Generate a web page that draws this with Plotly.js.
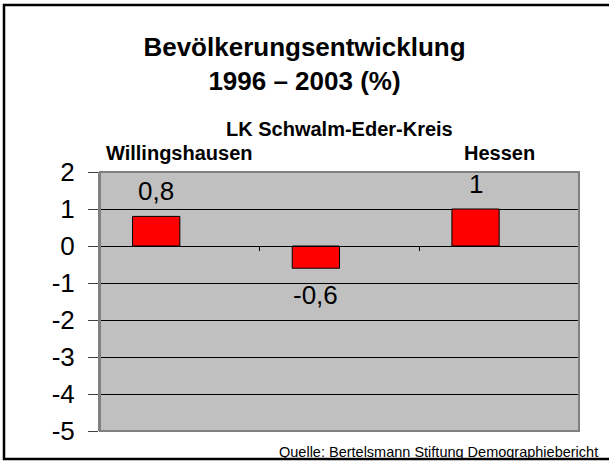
<!DOCTYPE html>
<html>
<head>
<meta charset="utf-8">
<script src="https://cdn.plot.ly/plotly-3.0.1.min.js"></script>
<style>
  html, body { margin: 0; padding: 0; background: #fff; }
  #plot { width: 609px; height: 461px; }
</style>
</head>
<body>
<div id="plot"></div>
<script>
// Daten: Bevölkerungsentwicklung 1996 – 2003 (%)
const categories = ['Willingshausen', 'LK Schwalm-Eder-Kreis', 'Hessen'];
const values = [0.8, -0.6, 1];
const yTicks = [2, 1, 0, -1, -2, -3, -4, -5];
const titleLines = ['Bevölkerungsentwicklung', '1996 – 2003 (%)'];
const sourceText = 'Quelle: Bertelsmann Stiftung Demographiebericht';

const W = 609, H = 461;
const M = { l: 100, r: 30, t: 172, b: 30 };
const plotW = W - M.l - M.r;
const plotH = H - M.t - M.b;
const FONT = 'Liberation Sans, Arial, sans-serif';

// Pixel -> paper-Koordinaten (für Rahmen)
const px = x => (x - M.l) / plotW;
const py = y => (H - M.b - y) / plotH;

const barWidth = 0.296;
const xs = categories.map((_, i) => i);

// Zahlen im deutschen Format
const fmt = v => String(v).replace('.', ',');

const barTrace = {
  type: 'bar',
  x: xs,
  y: values,
  width: barWidth,
  offset: -barWidth,
  marker: { color: '#ff0000', line: { color: '#000000', width: 1 } },
  hoverinfo: 'skip',
  showlegend: false
};

// Werte-Beschriftungen über / unter den Balken
const valueLabels = values.map((v, i) => ({
  x: i - barWidth / 2,
  y: v,
  xref: 'x', yref: 'y',
  text: fmt(v),
  showarrow: false,
  yanchor: 'middle',
  yshift: v >= 0 ? 25 : -27,
  font: { family: FONT, size: 26, color: '#000' }
}));

// Kategorienamen oberhalb der Zeichenfläche (versetzt)
const catLabels = categories.map((c, i) => ({
  x: i,
  y: 1,
  xref: 'x', yref: 'paper',
  text: '<b>' + c + '</b>',
  showarrow: false,
  yanchor: 'middle',
  yshift: i % 2 === 1 ? 43 : 19,
  font: { family: FONT, size: 20, color: '#000' }
}));

const sourceLabel = {
  x: px(600), y: py(452),
  xref: 'paper', yref: 'paper',
  xanchor: 'right', yanchor: 'middle',
  text: sourceText,
  showarrow: false,
  font: { family: FONT, size: 14.5, color: '#000' }
};

const layout = {
  width: W,
  height: H,
  margin: M,
  paper_bgcolor: '#ffffff',
  plot_bgcolor: '#c0c0c0',
  showlegend: false,
  title: {
    text: '<b>' + titleLines.join('<br>') + '</b>',
    x: 0.5, xanchor: 'center',
    y: 1 - 56 / H, yanchor: 'top',
    font: { family: FONT, size: 26, color: '#000' }
  },
  xaxis: {
    range: [-0.5, categories.length - 0.5],
    anchor: 'free',
    position: 5 / 7,
    showline: true, linecolor: '#000', linewidth: 1,
    ticks: 'outside', ticklen: 4, tickcolor: '#000', tickwidth: 1,
    tickvals: [0.5, 1.5, 2.5],
    showticklabels: false,
    showgrid: false, zeroline: false,
    fixedrange: true
  },
  yaxis: {
    range: [-5, 2],
    tickvals: yTicks,
    ticktext: yTicks.map(fmt),
    showgrid: true, gridcolor: '#000', gridwidth: 1,
    zeroline: false,
    showline: true, linecolor: '#808080', linewidth: 2,
    ticks: 'outside', ticklen: 10, tickcolor: '#404040', tickwidth: 1,
    ticklabelstandoff: 8,
    tickfont: { family: FONT, size: 26, color: '#000' },
    fixedrange: true
  },
  shapes: [
    // Rahmen der Zeichenfläche
    { type: 'rect', xref: 'paper', yref: 'paper', x0: 0, x1: 1, y0: 0, y1: 1,
      line: { color: '#808080', width: 2 } },
    // äußerer Folienrahmen (rechts außerhalb des Bildes)
    { type: 'rect', xref: 'paper', yref: 'paper',
      x0: px(4), x1: px(640), y0: py(459), y1: py(5),
      line: { color: '#000', width: 2.5 } }
  ],
  annotations: [...valueLabels, ...catLabels, sourceLabel]
};

Plotly.newPlot('plot', [barTrace], layout, { staticPlot: true, displayModeBar: false });
</script>
</body>
</html>
